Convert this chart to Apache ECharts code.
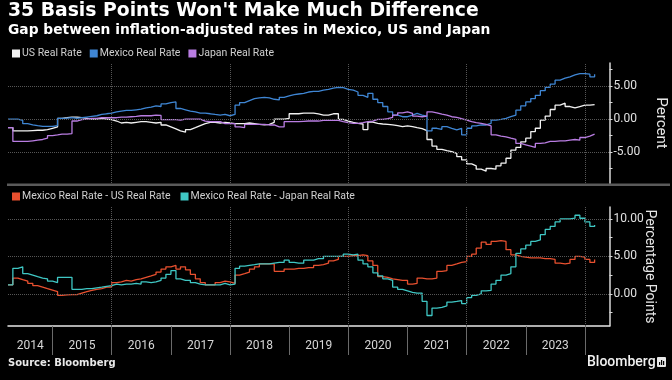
<!DOCTYPE html>
<html><head><meta charset="utf-8">
<script src="https://cdn.jsdelivr.net/npm/echarts@6/dist/echarts.min.js"></script>
<style>html,body{margin:0;padding:0;background:#000;}#c{width:672px;height:380px;}</style>
</head><body><div id="c"></div>
<script>
const titleText = "35 Basis Points Won't Make Much Difference";
const subtitleText = "Gap between inflation-adjusted rates in Mexico, US and Japan";
const sourceText = "Source: Bloomberg";
const brandText = "Bloomberg";

const months = [
 '2014-04','2014-05','2014-06','2014-07','2014-08','2014-09','2014-10','2014-11','2014-12',
 '2015-01','2015-02','2015-03','2015-04','2015-05','2015-06','2015-07','2015-08','2015-09','2015-10','2015-11','2015-12',
 '2016-01','2016-02','2016-03','2016-04','2016-05','2016-06','2016-07','2016-08','2016-09','2016-10','2016-11','2016-12',
 '2017-01','2017-02','2017-03','2017-04','2017-05','2017-06','2017-07','2017-08','2017-09','2017-10','2017-11','2017-12',
 '2018-01','2018-02','2018-03','2018-04','2018-05','2018-06','2018-07','2018-08','2018-09','2018-10','2018-11','2018-12',
 '2019-01','2019-02','2019-03','2019-04','2019-05','2019-06','2019-07','2019-08','2019-09','2019-10','2019-11','2019-12',
 '2020-01','2020-02','2020-03','2020-04','2020-05','2020-06','2020-07','2020-08','2020-09','2020-10','2020-11','2020-12',
 '2021-01','2021-02','2021-03','2021-04','2021-05','2021-06','2021-07','2021-08','2021-09','2021-10','2021-11','2021-12',
 '2022-01','2022-02','2022-03','2022-04','2022-05','2022-06','2022-07','2022-08','2022-09','2022-10','2022-11','2022-12',
 '2023-01','2023-02','2023-03','2023-04','2023-05','2023-06','2023-07','2023-08','2023-09','2023-10','2023-11','2023-12',
 '2024-01','2024-02','2024-03'
];

const usReal = [
 -1.3,-1.8,-1.8,-1.8,-1.75,-1.7,-1.7,-1.6,-1.4,-1.2,
 0.1,0.2,0.3,0.3,0.2,0.1,0.0,0.0,0.1,0.0,
 -0.1,-0.3,-0.6,-0.5,-0.6,-0.5,-0.4,-0.4,-0.5,-0.6,
 -0.5,-0.9,-1.2,-1.5,-1.8,-2.0,-1.6,-1.3,-1.0,-0.7,
 -0.5,-0.5,-0.6,-0.5,-0.6,-0.7,-0.7,-0.7,-0.6,-0.7,
 -0.8,-0.9,-0.8,-0.5,0.0,0.0,0.1,0.8,0.8,0.9,
 0.9,0.9,0.8,0.6,0.6,0.8,0.8,-0.05,-0.3,-0.5,
 -0.65,-0.75,-1.6,-0.45,-0.65,-0.75,-0.8,-0.9,-1.0,-1.15,
 -1.05,-1.15,-1.3,-1.45,-1.75,-3.1,-4.1,-4.6,-4.8,-4.95,
 -5.2,-5.7,-6.2,-6.8,-7.1,-7.6,-7.9,-7.5,-7.6,-7.1,
 -6.7,-5.95,-4.7,-4.3,-3.45,-2.9,-1.9,-1.4,-0.15,0.45,
 1.45,2.1,2.4,1.9,1.7,1.9,2.1,2.1,2.2,2.3
];
const mexicoReal = [
 0.0,0.0,-0.2,-0.7,-0.9,-1.0,-1.1,-1.1,-1.1,-1.0,
 0.1,0.15,0.2,0.1,0.2,0.3,0.4,0.5,0.7,0.8,
 0.9,1.1,1.2,1.3,1.3,1.4,1.5,1.7,1.8,2.0,
 1.9,2.3,2.5,2.6,1.6,1.4,1.2,1.1,0.9,0.9,
 0.8,0.7,0.6,0.7,0.5,0.7,2.1,2.5,2.8,3.1,
 3.2,3.3,3.2,3.0,2.9,3.3,3.5,3.7,3.8,3.9,
 4.1,4.2,4.2,4.4,4.5,4.7,4.8,4.75,4.5,4.4,
 4.1,3.6,3.3,3.9,3.0,2.5,1.9,1.1,0.6,0.35,
 0.35,0.6,0.85,0.6,0.45,-1.8,-1.4,-1.55,-1.15,-1.4,
 -1.65,-1.4,-2.4,-1.4,-1.05,-0.9,-0.9,-0.65,-0.15,-0.05,
 0.1,0.35,0.6,1.35,2.0,2.6,3.1,3.6,4.3,4.8,
 5.3,5.9,6.2,6.4,6.7,6.9,6.9,6.8,6.4,6.8
];
const japanReal = [
 -1.3,-3.4,-3.4,-3.4,-3.3,-3.2,-3.1,-2.9,-2.5,-2.4,
 -2.3,-2.3,-2.2,-0.3,-0.1,0.0,0.1,0.1,0.2,0.2,
 0.2,0.2,0.3,0.3,0.35,0.4,0.5,0.5,0.5,0.6,
 0.55,-0.1,-0.1,-0.1,-0.15,0.0,0.0,0.0,0.0,-0.3,
 -0.4,-0.4,-0.4,-0.7,-0.7,-0.7,-1.2,-1.3,-0.8,-0.8,
 -0.8,-0.8,-0.9,-0.9,-1.2,-1.2,-0.4,-0.4,-0.4,-0.35,
 -0.3,-0.3,-0.3,-0.2,-0.2,-0.2,-0.2,-0.4,-0.55,-0.65,
 -0.65,-0.55,-0.4,-0.3,-0.05,-0.05,0.05,0.25,0.6,0.95,
 1.1,0.85,0.45,0.35,0.45,1.1,0.95,0.75,0.6,0.35,
 0.25,0.05,-0.15,-0.4,-0.55,-0.65,-0.8,-1.05,-2.4,-2.6,
 -2.7,-2.9,-3.1,-3.7,-3.9,-4.1,-4.3,-3.7,-3.6,-3.4,
 -3.4,-3.3,-3.3,-3.2,-3.1,-3.2,-2.8,-2.6,-2.3,-2.3
];
const mexMinusUs = [
 1.2,2.1,1.9,1.7,1.4,1.1,0.9,0.7,0.5,0.3,
 -0.2,-0.15,-0.1,-0.1,0.1,0.3,0.45,0.6,0.7,0.9,
 0.9,1.5,1.6,1.8,1.7,1.9,2.0,2.2,2.4,2.6,
 2.9,3.3,3.6,3.8,3.3,3.6,3.2,2.6,2.0,1.5,
 1.2,1.2,1.5,1.7,1.6,1.4,2.5,2.7,2.9,3.3,
 3.6,4.0,4.0,4.0,3.0,3.0,3.3,3.3,3.4,3.4,
 3.5,3.5,3.8,3.9,4.1,4.4,4.6,5.0,5.0,5.1,
 5.1,5.2,5.1,4.4,3.8,2.3,2.2,2.0,1.9,1.8,
 1.8,1.3,1.4,2.1,2.0,2.0,2.1,3.0,3.1,3.8,
 4.0,4.2,4.3,5.0,5.3,6.1,6.9,6.6,7.0,7.1,
 7.0,5.9,5.2,5.0,4.9,4.8,4.8,4.8,4.7,4.7,
 4.6,4.1,4.0,4.1,4.6,5.0,4.9,4.6,4.2,4.6
];
const mexMinusJapan = [
 1.2,3.4,3.6,2.7,2.5,2.3,2.1,2.0,1.7,1.5,
 2.2,2.2,2.2,0.6,0.6,0.7,0.7,0.8,0.9,1.0,
 1.1,1.3,1.2,1.3,1.3,1.4,1.3,1.6,1.5,1.6,
 1.8,2.1,2.6,3.1,2.0,1.8,1.8,1.5,1.3,1.2,
 1.2,1.2,1.2,1.4,1.2,1.3,3.4,3.7,3.8,3.9,
 4.0,4.0,4.0,4.1,4.2,4.2,4.5,4.2,4.1,4.1,
 4.5,4.5,4.7,4.7,5.0,5.0,5.0,5.0,5.3,5.2,
 5.3,4.5,4.0,3.6,2.8,2.4,2.0,1.8,0.9,0.6,
 0.4,0.2,0.1,0.1,-1.0,-2.9,-1.9,-1.8,-1.6,-1.1,
 -1.0,-0.9,-1.3,-0.5,-0.2,0.0,0.4,0.45,1.3,1.8,
 2.5,2.7,3.6,5.4,6.0,6.5,7.0,7.2,7.9,8.6,
 9.0,9.6,10.0,10.0,10.1,10.5,10.1,9.6,9.0,9.2
];

const yearLabels = ['2014','2015','2016','2017','2018','2019','2020','2021','2022','2023'];
const yearBoundaries = ['2015','2016','2017','2018','2019','2020','2021','2022','2023','2024'];
const gridYears = ['2016','2018','2020','2022','2024'];
const topTicks = [-7.5,-5,-2.5,0,2.5,5,7.5];
const topLabels = [-5,0,5];
const bottomTicks = [-2.5,0,2.5,5,7.5,10];
const bottomLabels = [0,5,10];

const ts = s => { const p = s.split('-').map(Number); return Date.UTC(p[0], (p[1] || 1) - 1, p[2] || 1); };
const xMin = ts('2014-04-01'), xMax = ts('2024-06-01');
const pairs = vals => months.map((m, i) => [ts(m + '-01'), vals[i]]);
const labelPos = yearLabels.map(y => {
  const a = Math.max(ts(y + '-01-01'), xMin), b = ts((+y + 1) + '-01-01');
  return (a + b) / 2;
});

const FONT = 'Roboto';
const HEAD = 'DejaVu Sans';
const gridColor = '#565656';
function gridLines(yVals) {
  return {
    silent: true, symbol: ['none', 'none'], animation: false,
    label: { show: false },
    lineStyle: { color: gridColor, type: 'dotted', width: 1 },
    emphasis: { disabled: true },
    data: yVals.map(v => ({ yAxis: v })).concat(gridYears.map(y => ({ xAxis: ts(y + '-01-01') })))
  };
}
function line(name, vals, color, xi, extra) {
  return Object.assign({
    name, type: 'line', step: 'end', data: pairs(vals), xAxisIndex: xi, yAxisIndex: xi,
    showSymbol: false, symbol: 'none', color,
    lineStyle: { color, width: 1.3 }, emphasis: { disabled: true }, animation: false
  }, extra || {});
}
function yAx(gi, min, max, ticks, labels, name, gap, nameSize) {
  return {
    type: 'value', gridIndex: gi, position: 'right', min, max,
    axisLine: { show: true, lineStyle: { color: '#d8d8d8', width: 1.5 } },
    axisTick: { show: true, customValues: ticks, length: 3, lineStyle: { color: '#d8d8d8' } },
    axisLabel: { customValues: labels, formatter: v => v.toFixed(2), color: '#e0e0e0',
      fontFamily: FONT, fontSize: 12, margin: 4 },
    splitLine: { show: false },
    name, nameLocation: 'middle', nameRotate: -90, nameGap: gap, nameMoveOverlap: false,
    nameTextStyle: { color: '#e6e6e6', fontFamily: FONT, fontSize: nameSize }
  };
}

const chart = echarts.init(document.getElementById('c'), null, { renderer: 'canvas' });
chart.setOption({
  backgroundColor: '#000',
  animation: false,
  title: [
    { text: titleText, left: 8, top: 2, padding: 0,
      textStyle: { color: '#fff', fontFamily: HEAD, fontWeight: 'bold', fontSize: 18.8 } },
    { text: subtitleText, left: 8, top: 23, padding: 0,
      textStyle: { color: '#fff', fontFamily: HEAD, fontWeight: 'bold', fontSize: 13.8 } },
    { text: sourceText, left: 8, top: 358, padding: 0,
      textStyle: { color: '#e8e8e8', fontFamily: HEAD, fontWeight: 'bold', fontSize: 10 } }
  ],
  legend: [
    { data: ['US Real Rate', 'Mexico Real Rate', 'Japan Real Rate'], left: 12, top: 48, padding: 0,
      icon: 'rect', itemWidth: 8, itemHeight: 8, itemGap: 8, selectedMode: false,
      textStyle: { color: '#cfcfcf', fontFamily: FONT, fontSize: 10.5, padding: [0, 0, 0, -3] } },
    { data: ['Mexico Real Rate - US Real Rate', 'Mexico Real Rate - Japan Real Rate'], left: 12, top: 191, padding: 0,
      icon: 'rect', itemWidth: 8, itemHeight: 8, itemGap: 10, selectedMode: false,
      textStyle: { color: '#cfcfcf', fontFamily: FONT, fontSize: 10.5, padding: [0, 0, 0, -3] } }
  ],
  grid: [
    { left: 8, right: 62.5, top: 63, height: 120, containLabel: false, outerBoundsMode: 'none' },
    { left: 8, right: 62.5, top: 207, height: 119, containLabel: false, outerBoundsMode: 'none' }
  ],
  xAxis: [
    { type: 'value', gridIndex: 0, min: xMin, max: xMax,
      axisLine: { show: false }, axisTick: { show: false }, axisLabel: { show: false }, splitLine: { show: false } },
    { type: 'value', gridIndex: 1, min: xMin, max: xMax,
      axisLine: { show: true, onZero: false, lineStyle: { color: '#e8e8e8', width: 1.5 } },
      axisTick: { show: true, customValues: yearBoundaries.map(y => ts(y + '-01-01')), length: 29, inside: false,
        lineStyle: { color: '#6a6a6a', width: 1 } },
      axisLabel: { show: true, customValues: labelPos, color: '#d6d6d6', fontFamily: FONT, fontSize: 12, margin: 14,
        formatter: v => String(new Date(v).getUTCFullYear()) },
      splitLine: { show: false } }
  ],
  yAxis: [
    yAx(0, -9.7, 8.5, topTicks, topLabels, 'Percent', 44, 15),
    yAx(1, -4.3, 11.6, bottomTicks, bottomLabels, 'Percentage Points', 33, 14)
  ],
  series: [
    line('US Real Rate', usReal, '#f2f2f2', 0, { markLine: gridLines([5, 0, -5]), z: 3 }),
    line('Mexico Real Rate', mexicoReal, '#3f86d4', 0),
    line('Japan Real Rate', japanReal, '#b97de2', 0),
    line('Mexico Real Rate - US Real Rate', mexMinusUs, '#e8502f', 1, { markLine: gridLines([10, 5, 0]) }),
    line('Mexico Real Rate - Japan Real Rate', mexMinusJapan, '#3fc7c4', 1)
  ],
  graphic: [
    { type: 'rect', left: 7, top: 183.5, shape: { width: 663, height: 2.5 }, style: { fill: '#5a5a5a' }, silent: true },
    { type: 'text', left: 587, top: 355, style: { text: brandText, fill: '#f2f2f2',
        font: '500 14px Roboto' }, silent: true },
    { type: 'group', left: 657, top: 357, silent: true, children: [
      { type: 'rect', shape: { x: 0, y: 0, width: 9, height: 10, r: 1 }, style: { fill: '#e8e8e8' } },
      { type: 'rect', shape: { x: 2, y: 5, width: 1.2, height: 3 }, style: { fill: '#000' } },
      { type: 'rect', shape: { x: 4, y: 3, width: 1.2, height: 5 }, style: { fill: '#000' } },
      { type: 'rect', shape: { x: 6, y: 4, width: 1.2, height: 4 }, style: { fill: '#000' } }
    ] }
  ]
});
</script></body></html>
